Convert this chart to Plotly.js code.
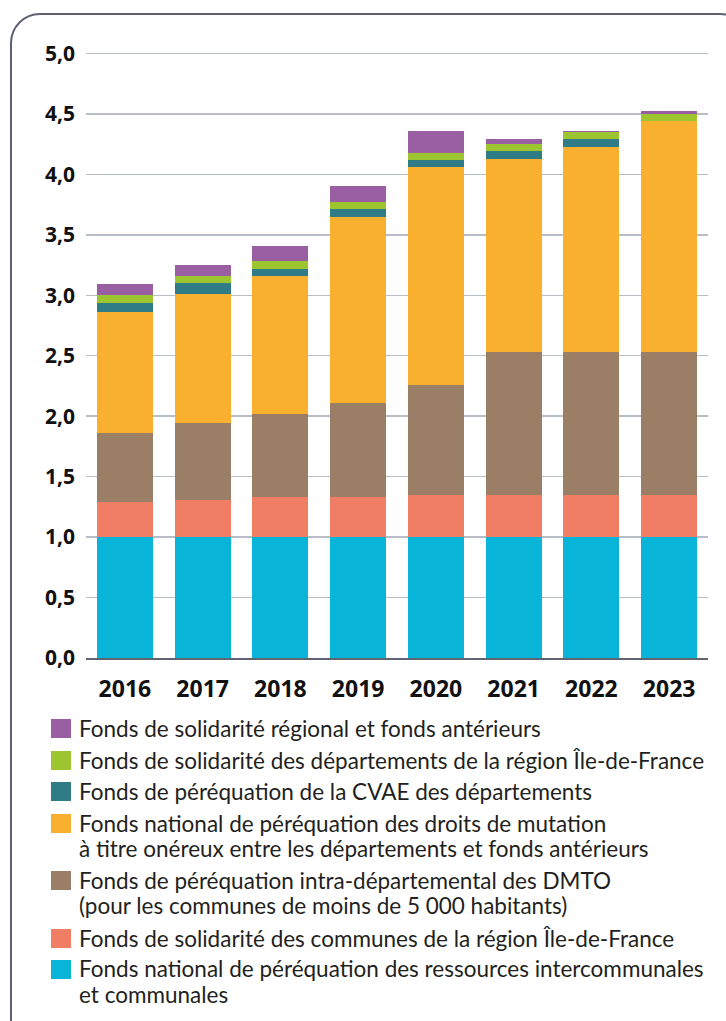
<!DOCTYPE html>
<html>
<head>
<meta charset="utf-8">
<script src="https://cdn.plot.ly/plotly-3.0.1.min.js"></script>
<style>
  html, body { margin: 0; padding: 0; background: #fff; }
  #wrap { position: relative; width: 726px; height: 1021px; overflow: hidden; }
  #chart { position: absolute; left: 0; top: 0; width: 726px; height: 1021px; }
  #frame { position: absolute; left: 10px; top: 13px; width: 740px; height: 1040px;
           border: 2.5px solid #5b6170; border-radius: 30px; box-sizing: border-box; pointer-events: none; }
</style>
</head>
<body>
<div id="wrap"><div id="chart"></div><div id="frame"></div></div>
<script>
// ---- Data (milliards d'euros) ----
const years = ['2016', '2017', '2018', '2019', '2020', '2021', '2022', '2023'];
const fpic      = [1.00, 1.00, 1.00, 1.00, 1.00, 1.00, 1.00, 1.00];
const fsrif     = [0.29, 0.31, 0.33, 0.33, 0.35, 0.35, 0.35, 0.35];
const dmtoIntra = [0.57, 0.63, 0.69, 0.78, 0.91, 1.18, 1.18, 1.18];
const fnpDmto   = [1.00, 1.07, 1.14, 1.54, 1.80, 1.60, 1.70, 1.91];
const cvae      = [0.08, 0.09, 0.06, 0.06, 0.06, 0.06, 0.06, 0.00];
const fsdrif    = [0.06, 0.06, 0.06, 0.06, 0.06, 0.06, 0.06, 0.06];
const fsr       = [0.09, 0.09, 0.13, 0.13, 0.18, 0.04, 0.01, 0.02];

const seriesNames = [
  'Fonds national de péréquation des ressources intercommunales\net communales',
  'Fonds de solidarité des communes de la région Île-de-France',
  'Fonds de péréquation intra-départemental des DMTO\n(pour les communes de moins de 5 000 habitants)',
  'Fonds national de péréquation des droits de mutation\nà titre onéreux entre les départements et fonds antérieurs',
  'Fonds de péréquation de la CVAE des départements',
  'Fonds de solidarité des départements de la région Île-de-France',
  'Fonds de solidarité régional et fonds antérieurs'
];
const seriesValues = [fpic, fsrif, dmtoIntra, fnpDmto, cvae, fsdrif, fsr];
const colors = ['#08b5d9', '#ef7e64', '#9b7e66', '#f8b02e', '#2f7c86', '#9cc52f', '#9a5ea2'];
const yTicks = [0, 0.5, 1, 1.5, 2, 2.5, 3, 3.5, 4, 4.5, 5];

// ---- Layout geometry ----
const W = 726, H = 1021;
const M = { l: 86, r: 18, t: 51, b: 363 };
const PW = W - M.l - M.r, PH = H - M.t - M.b;
const px2x = px => (px - M.l) / PW;
const px2y = py => (H - M.b - py) / PH;

const traces = seriesNames.map((n, i) => ({
  type: 'bar', x: years, y: seriesValues[i], name: n.replace('\n', ' '),
  marker: { color: colors[i], line: { width: 0 } },
  showlegend: false, hoverinfo: 'x+y+name'
}));

// legend (drawn top to bottom: reversed series order)
const legendFirstLineY = [728, 760, 791, 823, 880, 938, 969];
const lineStep = 25.5;
const shapes = [], annotations = [];
for (let k = 0; k < seriesNames.length; k++) {
  const i = seriesNames.length - 1 - k;
  const y0 = legendFirstLineY[k];
  shapes.push({ type: 'rect', xref: 'paper', yref: 'paper',
    x0: px2x(51), x1: px2x(71), y0: px2y(y0 - 9), y1: px2y(y0 + 10),
    fillcolor: colors[i], line: { width: 0 } });
  seriesNames[i].split('\n').forEach((line, j) => {
    annotations.push({ xref: 'paper', yref: 'paper', x: px2x(77), y: px2y(y0 + j * lineStep),
      xanchor: 'left', yanchor: 'middle', showarrow: false, text: line,
      font: { family: 'Lato, sans-serif', size: 22.5, color: '#231f20' } });
  });
}

const layout = {
  width: W, height: H, margin: M,
  paper_bgcolor: '#ffffff', plot_bgcolor: '#ffffff',
  barmode: 'stack', bargap: 0.28, separators: ',.',
  showlegend: false,
  xaxis: {
    type: 'category', showgrid: false, showline: true, linecolor: '#5f6473', linewidth: 2,
    ticks: '', ticklabelstandoff: 9,
    tickfont: { family: 'Open Sans, sans-serif', size: 23, color: '#111', weight: 'bold' }
  },
  yaxis: {
    range: [0, 5.02], tickvals: yTicks, tickformat: '.1f', ticks: '',
    showgrid: true, gridcolor: '#b9bdc8', gridwidth: 1.5, zeroline: false, showline: false,
    ticklabelstandoff: 10,
    tickfont: { family: 'Open Sans, sans-serif', size: 21, color: '#111', weight: 'bold' }
  },
  shapes: shapes, annotations: annotations
};

Plotly.newPlot('chart', traces, layout, { displayModeBar: false, staticPlot: true });
</script>
</body>
</html>
